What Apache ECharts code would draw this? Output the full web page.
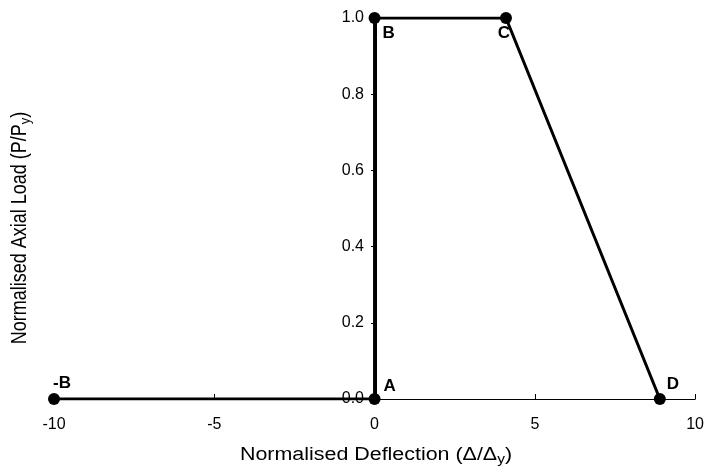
<!DOCTYPE html>
<html><head><meta charset="utf-8">
<script src="https://cdn.jsdelivr.net/npm/echarts@6/dist/echarts.min.js"></script>
<style>html,body{margin:0;padding:0;background:#fff}#c{width:707px;height:474px}</style>
</head><body><div id="c"></div>
<script>
const pointNames = ['-B', 'A', 'B', 'C', 'D'];
const deflection = [-10, 0, 0, 4.1, 8.9];
const axialLoad = [0, 0, 1, 1, 0];
const xTicks = [-10, -5, 0, 5, 10];
const yTicks = [0, 0.2, 0.4, 0.6, 0.8, 1.0];

const labelOffset = {
  '-B': [8, -16],
  'A': [15, -13],
  'B': [14, 15],
  'C': [-2, 15],
  'D': [13, -15]
};

const data = pointNames.map((n, i) => ({
  value: [deflection[i], axialLoad[i]],
  name: n,
  label: {show: true, formatter: n, position: 'inside', offset: labelOffset[n],
    fontWeight: 'bold', fontSize: 17, color: '#000', fontFamily: 'Liberation Sans'}
}));

const gridLeft = 54, gridRight = 9, W = 707;
const xZeroPx = gridLeft + (0 - xTicks[0]) / (xTicks[xTicks.length - 1] - xTicks[0]) * (W - gridLeft - gridRight);

const chart = echarts.init(document.getElementById('c'));
chart.setOption({
  animation: false,
  grid: {left: gridLeft, right: gridRight, top: 18, bottom: 75},
  xAxis: {
    type: 'value', min: xTicks[0], max: xTicks[xTicks.length - 1], interval: 5,
    axisLine: {onZero: false, lineStyle: {color: '#000', width: 1.2}},
    axisTick: {inside: true, length: 5, lineStyle: {color: '#000'}},
    splitLine: {show: false},
    axisLabel: {color: '#000', fontSize: 16, fontFamily: 'Liberation Sans', margin: 18}
  },
  yAxis: {
    type: 'value', min: yTicks[0], max: yTicks[yTicks.length - 1], interval: 0.2,
    offset: -(xZeroPx - gridLeft),
    axisLine: {onZero: false, lineStyle: {color: '#000', width: 2}},
    axisTick: {length: 5, lineStyle: {color: '#000'}},
    splitLine: {show: false},
    axisLabel: {color: '#000', fontSize: 16, fontFamily: 'Liberation Sans', margin: 12,
      formatter: v => v.toFixed(1)}
  },
  graphic: [{
    type: 'text', x: 376, y: 455, scaleX: 1.19,
    style: {
      text: 'Normalised Deflection (Δ/Δ{sub|y})',
      fill: '#000', font: '18px "Liberation Sans"',
      align: 'center', verticalAlign: 'middle',
      rich: {sub: {fontSize: 13, fontFamily: 'Liberation Sans', fill: '#000', padding: [9, 0, 0, 0]}}
    }
  }, {
    type: 'text', x: 20, y: 228, rotation: Math.PI / 2, scaleY: 1.19,
    style: {
      text: 'Normalised Axial Load (P/P{sub|y})',
      fill: '#000', font: '18px "Liberation Sans"',
      align: 'center', verticalAlign: 'middle',
      rich: {sub: {fontSize: 13, fontFamily: 'Liberation Sans', fill: '#000', padding: [9, 0, 0, 0]}}
    }
  }],
  series: [{
    type: 'line', data: data,
    symbol: 'circle', symbolSize: 12,
    itemStyle: {color: '#000'},
    lineStyle: {color: '#000', width: 3}
  }]
});
</script></body></html>
